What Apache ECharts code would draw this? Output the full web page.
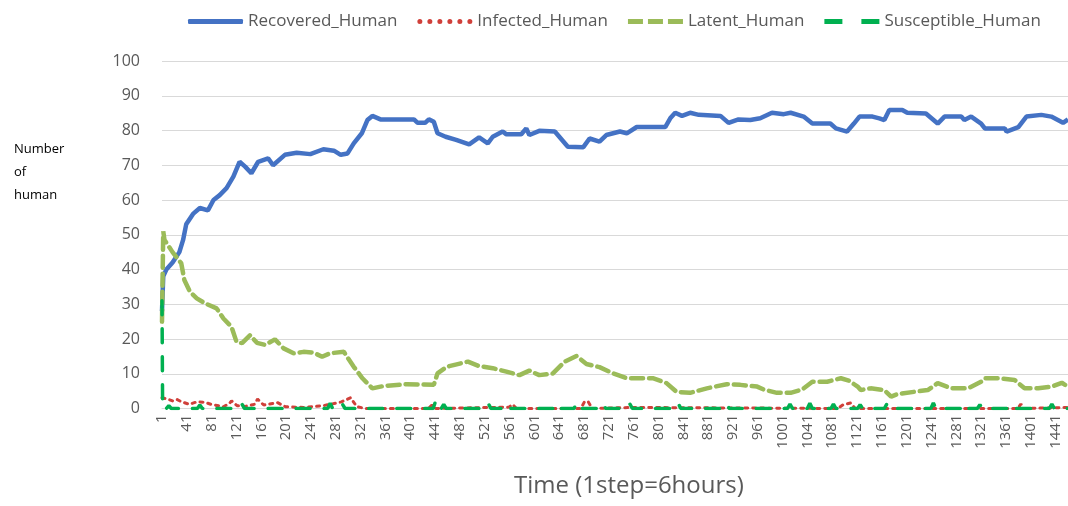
<!DOCTYPE html>
<html>
<head>
<meta charset="utf-8">
<script src="https://cdn.jsdelivr.net/npm/echarts@6/dist/echarts.min.js"></script>
<style>
  html, body { margin: 0; padding: 0; background: #fff; }
  #chart { width: 1068px; height: 506px; }
</style>
</head>
<body>
<div id="chart"></div>
<script>
// time steps shown on the x axis (1step = 6 hours)
const stepCount = 1461;
const steps = [];
for (let i = 1; i <= stepCount; i++) steps.push(String(i));

// [step, number of humans]
const recovered = [
    [1, 28], [3, 38], [8, 40], [18, 42], [29, 45], [35, 48.5], [40, 53], [51, 56], [62, 57.7], [75, 57],
    [84, 60], [94, 61.4], [105, 63.4], [116, 66.7], [126, 71], [135, 69.6], [145, 67.7], [156, 71],
    [172, 72], [180, 70], [199, 73], [218, 73.6], [240, 73.2], [261, 74.6], [278, 74.2], [289, 73],
    [300, 73.4], [310, 76.3], [323, 79.2], [332, 83], [340, 84.2], [353, 83.2], [407, 83.2], [413, 82.2],
    [425, 82.2], [431, 83.2], [439, 82.5], [445, 79.2], [458, 78.2], [475, 77.3], [496, 76], [512, 78],
    [526, 76.3], [534, 78.2], [550, 79.7], [556, 78.9], [580, 78.9], [588, 80.6], [593, 78.7], [609, 79.9],
    [634, 79.7], [655, 75.3], [680, 75.2], [690, 77.7], [706, 76.8], [717, 78.7], [739, 79.7], [750, 79.2],
    [766, 81], [812, 81], [820, 83.5], [828, 85.1], [839, 84.2], [852, 85.1], [866, 84.5], [901, 84.2],
    [914, 82.2], [930, 83.2], [949, 83], [965, 83.5], [984, 85.1], [1003, 84.7], [1014, 85.1], [1035, 84],
    [1049, 82], [1078, 82], [1087, 80.6], [1105, 79.7], [1116, 82], [1125, 84], [1146, 84], [1157, 83.5],
    [1165, 83], [1173, 85.9], [1194, 85.9], [1202, 85.1], [1232, 84.9], [1251, 82], [1262, 84], [1289, 84],
    [1294, 83], [1305, 84], [1321, 82], [1327, 80.6], [1359, 80.6], [1362, 79.7], [1381, 81], [1394, 84],
    [1418, 84.5], [1434, 84], [1453, 82.2], [1461, 83.2]
];

const infected = [
    [1, 3.1], [8, 2.8], [18, 2.2], [25, 2.6], [33, 1.9], [45, 1.2], [57, 1.9], [70, 1.8], [80, 1.2],
    [92, 0.8], [100, 0.5], [110, 1.5], [113, 2.2], [122, 0.8], [135, 0.6], [150, 1.2], [155, 2.7],
    [165, 1], [187, 1.7], [200, 0.5], [230, 0.3], [260, 0.8], [272, 1.2], [290, 1.9], [305, 3.1],
    [315, 0.5], [330, 0], [430, 0], [436, 1], [442, 0], [560, 0.4], [566, 1.2], [572, 0], [676, 0],
    [682, 2], [688, 1.9], [694, 0], [760, 0.3], [1090, 0], [1098, 1], [1111, 1.6], [1118, 0],
    [1380, 0], [1385, 1.3], [1390, 0], [1461, 0.3]
];

const latent = [
    [1, 25], [3, 51], [5, 48.5], [18, 45], [32, 41.8], [37, 37], [46, 33.6], [57, 31.7], [70, 30.3],
    [89, 28.8], [100, 25.9], [113, 23.5], [121, 19.2], [130, 18.8], [143, 21.1], [154, 18.9], [167, 18.3],
    [183, 19.9], [197, 17.3], [213, 15.9], [229, 16.3], [245, 16.1], [259, 14.9], [272, 15.9], [294, 16.3],
    [310, 12], [324, 8.7], [340, 5.8], [359, 6.5], [396, 7], [439, 6.8], [445, 10.1], [456, 11.5],
    [464, 12.2], [494, 13.5], [512, 12.2], [534, 11.6], [556, 10.6], [577, 9.6], [593, 10.9], [609, 9.6],
    [631, 10.1], [650, 13.5], [669, 15.1], [685, 12.8], [706, 11.9], [728, 10.1], [750, 8.7], [793, 8.7],
    [814, 7.3], [830, 4.8], [852, 4.5], [879, 5.8], [911, 7], [933, 6.8], [960, 6.3], [970, 5.5],
    [992, 4.5], [1014, 4.5], [1033, 5.5], [1049, 7.7], [1073, 7.7], [1095, 8.7], [1108, 8], [1122, 6.3],
    [1127, 5.3], [1143, 5.8], [1165, 5.3], [1176, 3.4], [1187, 4.2], [1213, 4.8], [1235, 5.3], [1251, 7.3],
    [1273, 5.8], [1300, 5.8], [1321, 7.7], [1327, 8.7], [1348, 8.7], [1375, 8.2], [1391, 5.8], [1413, 5.8],
    [1435, 6.3], [1451, 7.4], [1461, 6.3]
];

const susceptible = [
    [1, 31], [2, 0], [8, 0], [12, 0.8], [16, 0], [58, 0], [62, 1], [66, 0], [126, 0], [130, 1.2], [134, 0],
    [268, 0], [272, 1.5], [276, 0], [288, 0], [292, 1.2], [296, 0], [438, 0], [442, 2.2], [446, 0],
    [451, 0], [455, 1.2], [459, 0], [523, 0], [527, 1.4], [531, 0], [552, 0], [556, 1.1], [560, 0],
    [636, 0], [640, 1.3], [644, 0], [665, 0], [669, 1.6], [673, 0], [708, 0], [712, 1.3], [716, 0],
    [751, 0], [755, 1.3], [759, 0], [829, 0], [833, 1.4], [837, 0], [907, 0], [911, 1.3], [915, 0],
    [1009, 0], [1013, 1.3], [1017, 0], [1041, 0], [1045, 1.5], [1049, 0], [1079, 0], [1083, 1.3], [1087, 0],
    [1122, 0], [1126, 1.1], [1130, 0], [1165, 0], [1169, 1.3], [1173, 0], [1240, 0], [1244, 1.6], [1248, 0],
    [1288, 0], [1292, 1.3], [1296, 0], [1315, 0], [1319, 1.1], [1323, 0], [1366, 0], [1370, 1.1], [1374, 0],
    [1431, 0], [1435, 1.3], [1439, 0], [1461, 0]
];

const yTicks = [0, 100, 10]; // min, max, interval

// category axis wants the index, so step 1 -> 0
function toIndex(points) {
    return points.map(p => [p[0] - 1, p[1]]);
}

// legend keys drawn as thick strokes like the Excel key (55 x 5)
let dotPath = 'path://';
for (let i = 0; i < 6; i++) {
    const x = i * 10;
    dotPath += 'M' + x + ',2.5a2.5,2.5 0 1,0 5,0a2.5,2.5 0 1,0 -5,0z';
}
const dashPath = 'path://M0,0h15v5h-15zM20,0h15v5h-15zM40,0h15v5h-15z';
const longDashPath = 'path://M0,0h18v5h-18zM37,0h18v5h-18z';

const font = 'Open Sans';
const chart = echarts.init(document.getElementById('chart'));

const option = {
    animation: false,
    backgroundColor: '#fff',
    legend: {
        top: 8,
        left: 183,
        itemWidth: 55,
        itemHeight: 5,
        itemGap: 20,
        symbolKeepAspect: false,
        textStyle: { fontFamily: font, fontSize: 17, color: '#595959' },
        data: [
            { name: 'Recovered_Human', icon: 'roundRect' },
            { name: 'Infected_Human', icon: dotPath },
            { name: 'Latent_Human', icon: dashPath },
            { name: 'Susceptible_Human', icon: longDashPath }
        ]
    },
    grid: { left: 162, right: 0, top: 61, bottom: 97.5 },
    xAxis: {
        type: 'category',
        data: steps,
        boundaryGap: false,
        axisLine: { lineStyle: { color: '#d9d9d9', width: 1 } },
        axisTick: { show: false },
        axisLabel: {
            interval: 39,
            rotate: 90,
            margin: 6,
            fontFamily: font,
            fontSize: 15,
            color: '#595959'
        }
    },
    yAxis: {
        type: 'value',
        min: yTicks[0],
        max: yTicks[1],
        interval: yTicks[2],
        axisLine: { show: false },
        axisTick: { show: false },
        splitLine: { lineStyle: { color: '#d9d9d9', width: 1 } },
        axisLabel: { margin: 22, fontFamily: font, fontSize: 16, color: '#595959' }
    },
    graphic: [
        {
            type: 'text',
            left: 14,
            top: 138,
            style: {
                text: 'Number\nof\nhuman',
                font: '13px "Open Sans"',
                lineHeight: 23,
                fill: '#000'
            }
        },
        {
            type: 'text',
            left: 514,
            top: 474,
            style: {
                text: 'Time (1step=6hours)',
                font: '24px "Open Sans"',
                fill: '#595959'
            }
        }
    ],
    series: [
        {
            name: 'Recovered_Human',
            type: 'line',
            symbol: 'none',
            data: toIndex(recovered),
            lineStyle: { color: '#4472c4', width: 4.5 },
            itemStyle: { color: '#4472c4' }
        },
        {
            name: 'Infected_Human',
            type: 'line',
            symbol: 'none',
            data: toIndex(infected),
            lineStyle: { color: '#d0403a', width: 3, type: [3, 5], cap: 'round' },
            itemStyle: { color: '#d0403a' }
        },
        {
            name: 'Latent_Human',
            type: 'line',
            symbol: 'none',
            data: toIndex(latent),
            lineStyle: { color: '#9bbb59', width: 4.5, type: [12, 6], cap: 'round' },
            itemStyle: { color: '#9bbb59' }
        },
        {
            name: 'Susceptible_Human',
            type: 'line',
            symbol: 'none',
            data: toIndex(susceptible),
            lineStyle: { color: '#00b050', width: 3.5, type: [14, 14], cap: 'round' },
            itemStyle: { color: '#00b050' }
        }
    ]
};

chart.setOption(option);
</script>
</body>
</html>
